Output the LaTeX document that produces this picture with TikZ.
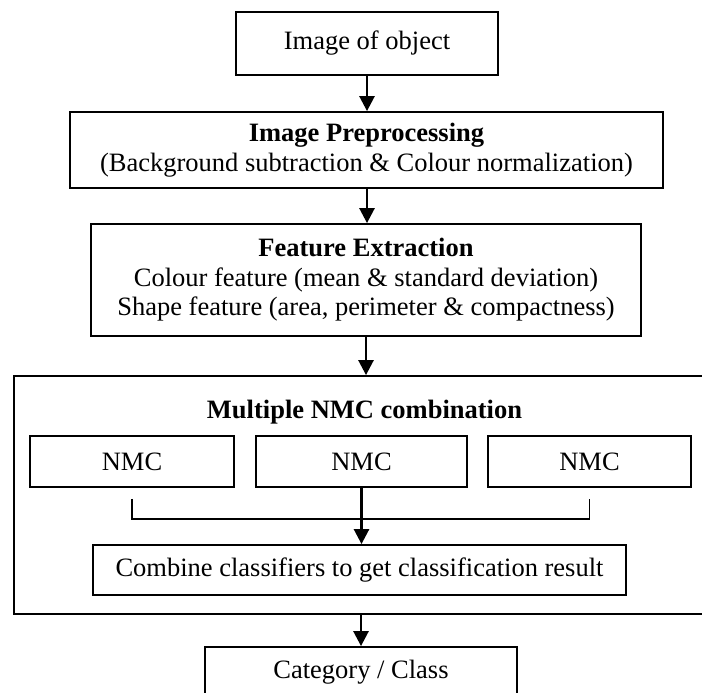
\documentclass[tikz,border=0pt]{standalone}
\usepackage{fontspec}
\setmainfont{Liberation Serif}
\usetikzlibrary{arrows.meta}
\newcommand\myfs{\fontsize{26.5}{29.5}\selectfont}
\tikzset{
  box/.style={draw, line width=1.8pt, inner sep=0pt, align=center, font=\myfs},
  plain/.style={inner sep=0pt, font=\myfs, anchor=base},
  arr/.style={-{Triangle[length=15pt,width=15pt]}, line width=2.6pt},
  link/.style={line width=1.8pt}
}
\begin{document}
\begin{tikzpicture}[x=1pt,y=1pt]
\useasboundingbox (0,0) rectangle (702,-693);
\clip (0,0) rectangle (702,-693);
\fill[white] (0,0) rectangle (702,-693);

\node[box, minimum width=262, minimum height=63] (b1) at (367,-43.5) {Image of object};
\node[box, minimum width=593, minimum height=76] (b2) at (366.5,-150)
  {\textbf{Image Preprocessing}\\(Background subtraction \& Colour normalization)};
\node[box, minimum width=550, minimum height=112] (b3) at (366,-280)
  {\textbf{Feature Extraction}\\Colour feature (mean \& standard deviation)\\Shape feature (area, perimeter \& compactness)};

\node[box, minimum width=700, minimum height=238] (big) at (364,-495) {};
\node[plain] (title) at (364.5,-418) {\textbf{Multiple NMC combination}};

\node[box, minimum width=204, minimum height=51] (n1) at (132,-461.5) {NMC};
\node[box, minimum width=211, minimum height=51] (n2) at (361.5,-461.5) {NMC};
\node[box, minimum width=203, minimum height=51] (n3) at (589.5,-461.5) {NMC};

\node[box, minimum width=533, minimum height=50] (comb) at (359.5,-570)
  {Combine classifiers to get classification result};

\node[box, minimum width=312, minimum height=50] (cat) at (361,-672) {Category / Class};

\draw[arr] (b1.south) -- (b1.south |- b2.north);
\draw[arr] (b2.south -| b1.south) -- (b1.south |- b3.north);
\draw[arr] (b3.south) -- (b3.south |- big.north);
\draw[arr] (n2.south) -- (n2.south |- comb.north);
\draw[arr] (cat.north |- big.south) -- (cat.north);

\draw[link] ([yshift=-11pt]n1.south) -- ++(0,-20) -| ([yshift=-11pt]n3.south);
\end{tikzpicture}
\end{document}
